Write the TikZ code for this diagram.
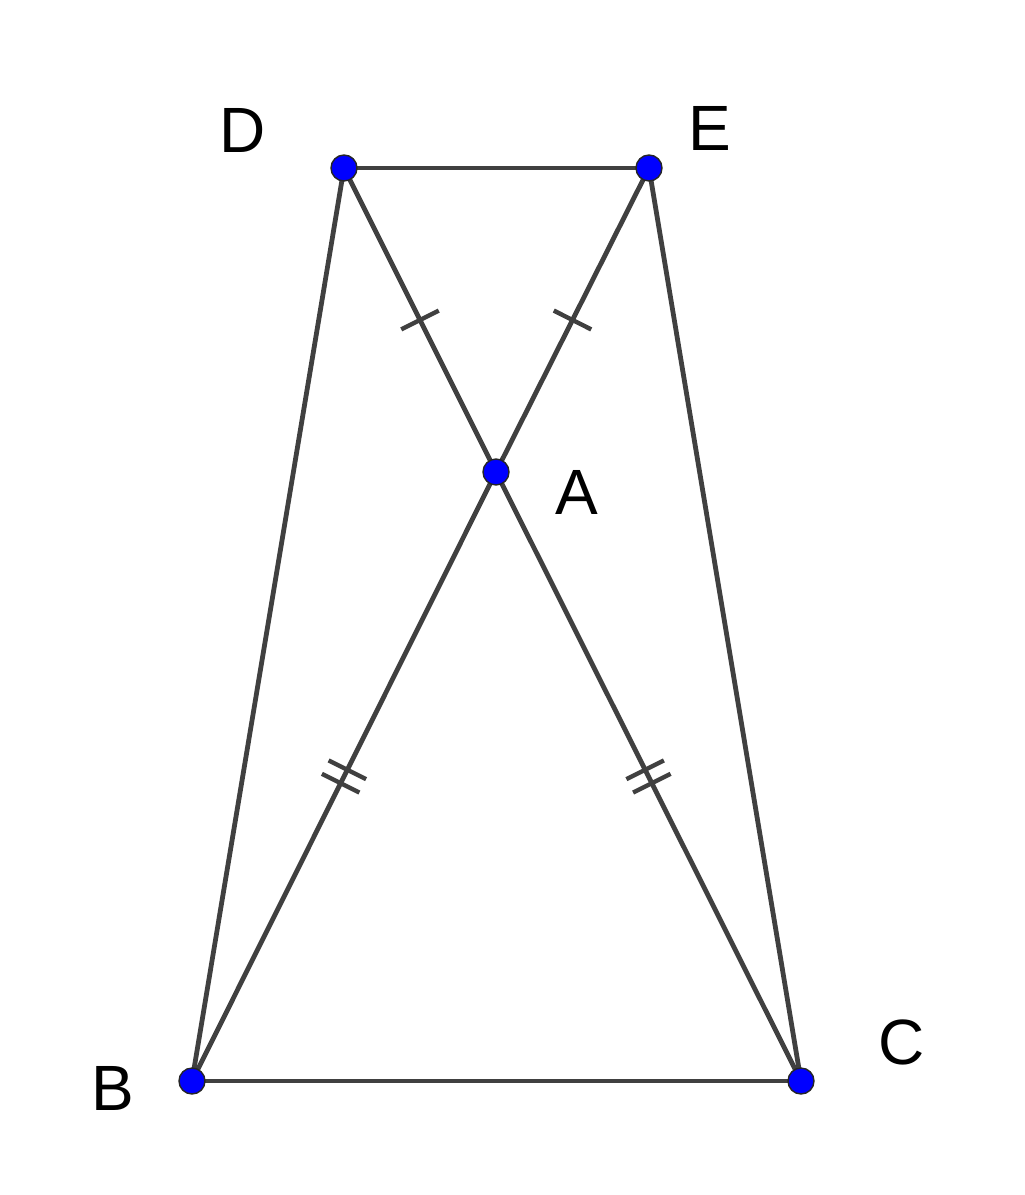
\documentclass[tikz,border=0pt]{standalone}
\usepackage{fontspec}
\setmainfont{Liberation Sans}
\usetikzlibrary{decorations.markings}
\definecolor{segcol}{RGB}{64,64,64}
\definecolor{ptblue}{RGB}{0,0,255}
\tikzset{
  seg/.style={draw=segcol, line width=2.4pt},
  ptdot/.style={circle, fill=ptblue, draw=black!85, line width=0.7pt, inner sep=0pt, minimum size=13pt},
  lbl/.style={font=\fontsize{32}{38}\selectfont, text=black, inner sep=0pt},
  onetick/.style={postaction={decorate, decoration={markings,
      mark=at position 0.5 with {\draw[segcol, line width=2.2pt] (0,-10.5pt) -- (0,10.5pt);}}}},
  twotick/.style={postaction={decorate, decoration={markings,
      mark=at position 0.5 with {\draw[segcol, line width=2.2pt] (-3.75pt,-10.5pt) -- (-3.75pt,10.5pt);
                                 \draw[segcol, line width=2.2pt] (3.75pt,-10.5pt) -- (3.75pt,10.5pt);}}}}
}
\begin{document}
\begin{tikzpicture}[x=0.5pt, y=-0.5pt]
\useasboundingbox (0,0) rectangle (1024,1195);
\coordinate (D) at (344,168);
\coordinate (E) at (649,168);
\coordinate (A) at (496,472);
\coordinate (B) at (192,1081);
\coordinate (C) at (801,1081);
\draw[seg] (D) -- (E);
\draw[seg] (B) -- (C);
\draw[seg] (D) -- (B);
\draw[seg] (E) -- (C);
\draw[seg, onetick] (D) -- (A);
\draw[seg, onetick] (E) -- (A);
\draw[seg, twotick] (A) -- (B);
\draw[seg, twotick] (A) -- (C);
\node[ptdot] (dD) at (D) {};
\node[ptdot] (dE) at (E) {};
\node[ptdot] (dA) at (A) {};
\node[ptdot] (dB) at (B) {};
\node[ptdot] (dC) at (C) {};
\node[lbl] (lD) at (243,130) {D};
\node[lbl] (lE) at (710,128) {E};
\node[lbl] (lA) at (577,492) {A};
\node[lbl] (lB) at (113,1088) {B};
\node[lbl] (lC) at (902,1042) {C};
\end{tikzpicture}
\end{document}
